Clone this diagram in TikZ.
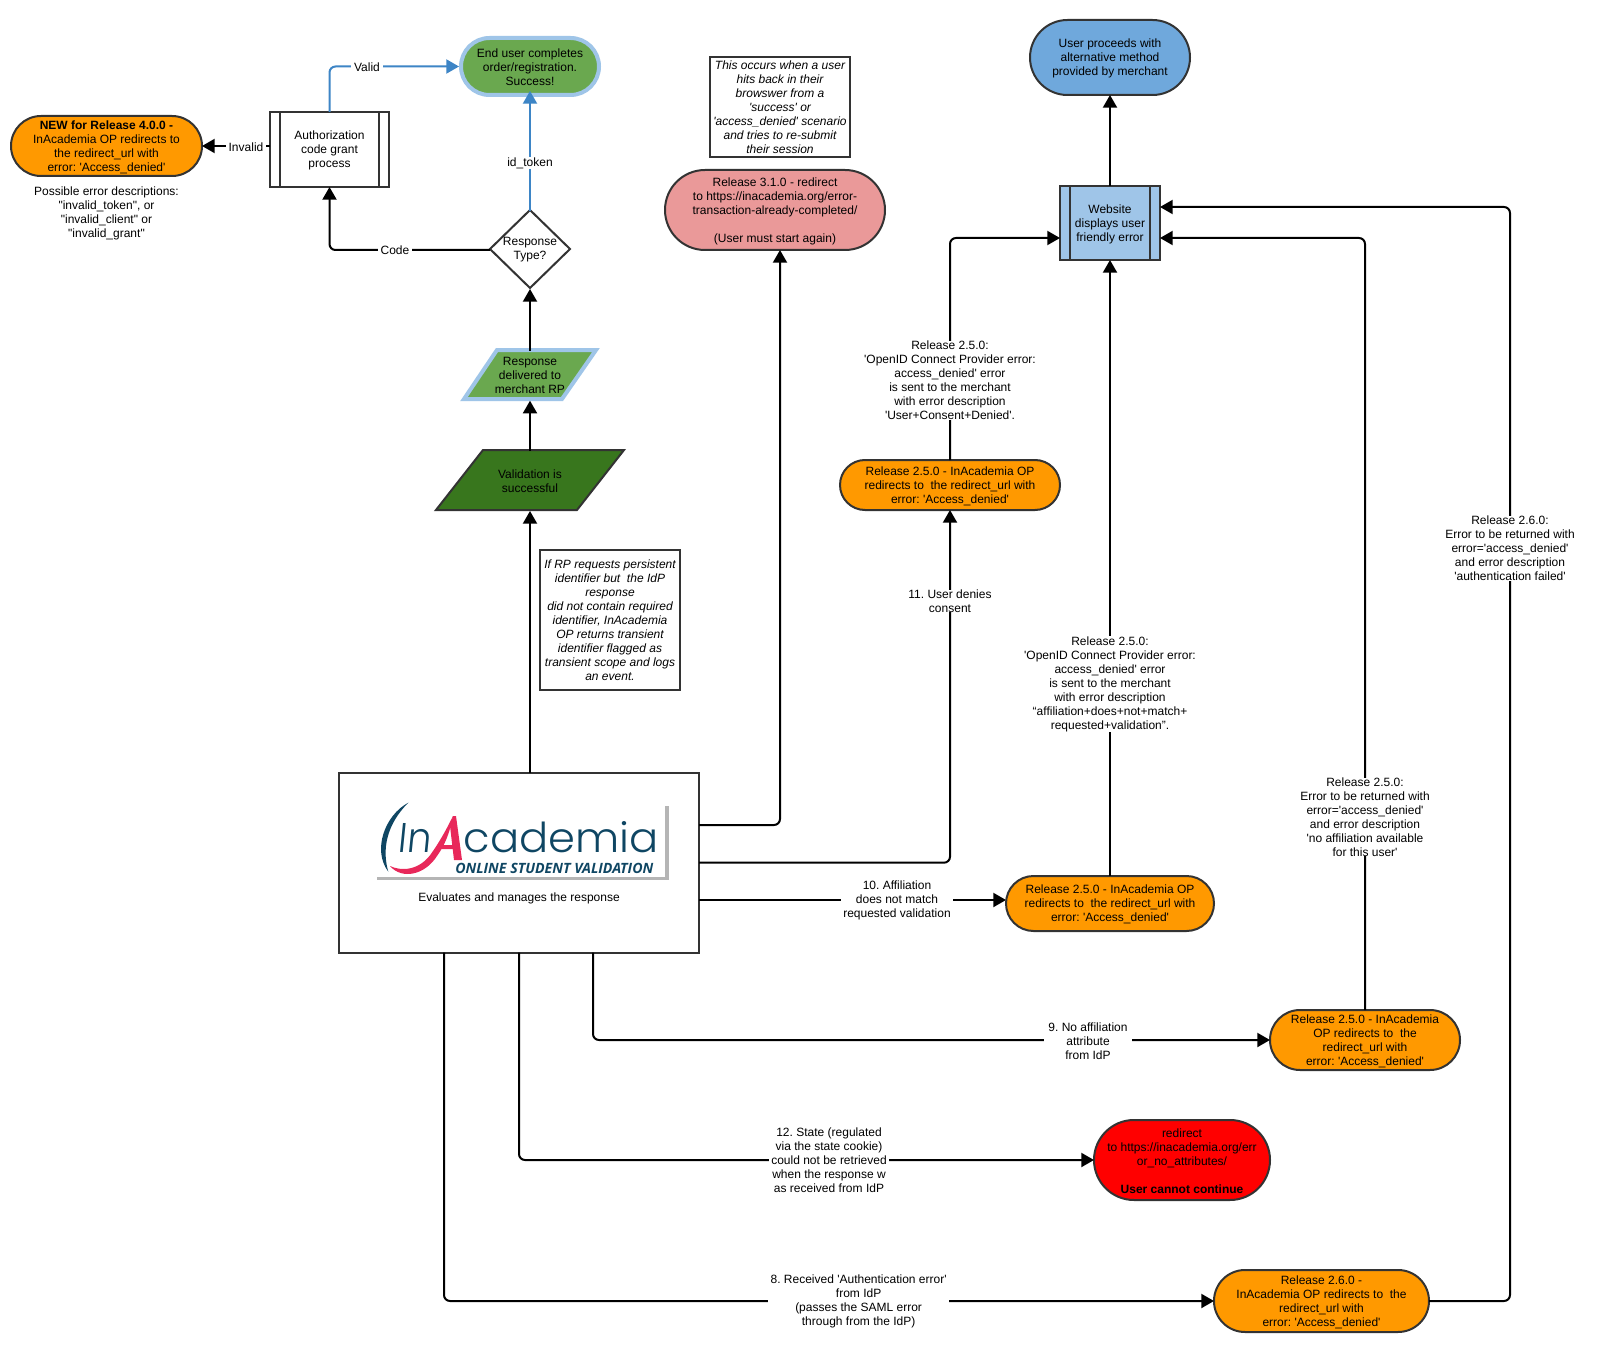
\documentclass[tikz,border=0pt]{standalone}
\usepackage{graphicx}
\usepackage{fontspec}
\usetikzlibrary{arrows.meta}
\frenchspacing
\newfontfamily\bodyfont{Liberation Sans}
\newfontfamily\logofont{Poppins Light}
\newfontfamily\logosub{Open Sans}
\newcommand\tf{\rule{0pt}{8pt}}
\definecolor{edgeC}{HTML}{333333}
\definecolor{orangeC}{HTML}{FF9900}
\definecolor{greenC}{HTML}{6AA84F}
\definecolor{dgreenC}{HTML}{38761D}
\definecolor{lblueC}{HTML}{9FC5E8}
\definecolor{blueC}{HTML}{6FA8DC}
\definecolor{pinkC}{HTML}{EA9999}
\definecolor{flowC}{HTML}{3D85C6}
\definecolor{logoB}{HTML}{0F4663}
\definecolor{logoP}{HTML}{E8285A}
\definecolor{logoG}{HTML}{B5B5B5}
\tikzset{
  txt/.style={font=\bodyfont\fontsize{9}{10.5}\selectfont,align=center,inner sep=0pt,outer sep=0pt,text=black},
  sz/.style 2 args={minimum width=#1*0.75pt,minimum height=#2*0.75pt},
  psz/.style 2 args={minimum width=#1*0.75pt,minimum height=#2*0.75pt,rounded corners=#2*0.3749pt},
  pill/.style={txt,rectangle,draw=edgeC,line width=1.5pt},
  boxed/.style={txt,rectangle,draw=edgeC,line width=1.5pt},
  notebox/.style={boxed,fill=white,font=\bodyfont\itshape\fontsize{9}{10.5}\selectfont},
  plain/.style={txt,rectangle,yshift=-0.75pt},
  lbl/.style={txt,fill=white,inner xsep=2pt,inner ysep=0pt,yshift=-0.75pt},
  conn/.style={draw=black,line width=1.5pt,rounded corners=4.5pt,-{Triangle[length=9.5pt,width=10.5pt]}},
  flow/.style={draw=flowC,line width=1.5pt,rounded corners=4.5pt,-{Triangle[length=9.5pt,width=10.5pt]}},
  bar/.style={draw=edgeC,line width=1.5pt},
}
\begin{document}
\begin{tikzpicture}[x=0.75pt,y=-0.75pt]
\useasboundingbox[fill=white] (0,0) rectangle (1597,1352);

% polygons behind text nodes
\draw[draw=edgeC,line width=1.5pt,fill=white] (530,210) -- (570,249) -- (530,288) -- (490,249) -- cycle;
\draw[draw=lblueC,line width=3pt,fill=greenC] (497,350) -- (596,350) -- (562,399) -- (464,399) -- cycle;
\draw[draw=edgeC,line width=1.5pt,fill=dgreenC] (483,450) -- (624,450) -- (577,510) -- (436,510) -- cycle;

% nodes
\node[pill,psz={138}{57},fill=greenC,draw=lblueC,line width=3pt,outer sep=1.5pt] (end) at (530,66.5) {\tf End user completes\\order/registration.\\Success!};
\node[pill,psz={191}{60},fill=orangeC] (o40) at (106.5,146) {\tf\textbf{NEW for Release 4.0.0 -}\\InAcademia OP redirects to\\the redirect\_url with\\error: 'Access\_denied'};
\node[plain] (errs) at (106.5,212) {Possible error descriptions:\\"invalid\_token", or\\ "invalid\_client" or\\"invalid\_grant"};
\node[boxed,sz={119}{75},fill=white] (auth) at (329.5,149.5) {\tf Authorization\\code grant\\process};
\draw[bar] ([xshift=7.5pt]auth.north west) -- ([xshift=7.5pt]auth.south west);
\draw[bar] ([xshift=-7.5pt]auth.north east) -- ([xshift=-7.5pt]auth.south east);
\node[plain,sz={80}{78}] (dia) at (530,249) {Response\\Type?};
\node[plain,sz={100}{50}] (resp) at (530,374.7) {Response\\delivered to\\merchant RP};
\node[plain,sz={100}{60}] (val) at (530,480) {Validation is\\successful};
\node[notebox,sz={140}{140}] (note2) at (610,620) {If RP requests persistent\\identifier but~ the IdP\\response\\did not contain required\\identifier, InAcademia\\OP returns transient\\identifier flagged as\\transient scope and logs\\an event.};
\node[notebox,sz={140}{100}] (note1) at (780,107) {This occurs when a user\\hits back in their\\browswer from a\\'success' or\\'access\_denied' scenario\\and tries to re-submit\\their session};
\node[pill,psz={220}{80},fill=pinkC] (pink) at (775,210) {\tf Release 3.1.0 - redirect\\to https://inacademia.org/error-\\transaction-already-completed/\\~\\(User must start again)};
\node[pill,psz={160}{75},fill=blueC] (alt) at (1110,57.5) {\tf User proceeds with\\alternative method\\provided by merchant};
\node[boxed,sz={100}{74},fill=lblueC] (web) at (1110,223) {\tf Website\\displays user\\friendly error};
\draw[bar] ([xshift=7.5pt]web.north west) -- ([xshift=7.5pt]web.south west);
\draw[bar] ([xshift=-7.5pt]web.north east) -- ([xshift=-7.5pt]web.south east);
\node[boxed,sz={360}{180},fill=white] (main) at (519,862.7) {};
\node[pill,psz={220}{50},fill=orangeC] (o1) at (950,485) {\tf Release 2.5.0 - InAcademia OP\\redirects to~ the redirect\_url with\\error: 'Access\_denied'};
\node[pill,psz={208}{55},fill=orangeC] (o2) at (1110,903.5) {\tf Release 2.5.0 - InAcademia OP\\redirects to~ the redirect\_url with\\error: 'Access\_denied'};
\node[pill,psz={190}{60},fill=orangeC] (o3) at (1365,1040) {\tf Release 2.5.0 - InAcademia\\OP redirects to~ the\\redirect\_url with\\error: 'Access\_denied'};
\node[pill,psz={176}{80},fill=red] (redn) at (1182,1160) {\tf redirect\\to https://inacademia.org/err\\or\_no\_attributes/\\~\\\textbf{User cannot continue}};
\node[pill,psz={215}{62},fill=orangeC] (o4) at (1321.5,1301) {\tf Release 2.6.0 -\\InAcademia OP redirects to~ the\\redirect\_url with\\error: 'Access\_denied'};

% logo
\fill[logoG] (665,805.7) rectangle (668.7,880);
\fill[logoG] (377,877.3) rectangle (668.7,880);
\fill[logoB] (408.3,802.7) .. controls (385,815) and (372,850) .. (388.3,871.7) .. controls (382,850) and (386,825) .. cycle;
\node[inner sep=0pt,anchor=base west,text=logoB,xslant=0.1] (logoIn) at (397,852.7) {\resizebox{24.75pt}{21.75pt}{\logofont In}};
\node[inner sep=0pt,anchor=base west,text=logoB] (logoAc) at (463.3,852.7) {\resizebox{146.25pt}{23.25pt}{\logofont cademia}};
\fill[logoP] (390,866) .. controls (400,871) and (420,872) .. (433,851) .. controls (442,838) and (448,826) .. (453,816) .. controls (450,832) and (445,845) .. (437,856) .. controls (425,875) and (402,880) .. cycle;
\fill[logoP] (453,816) -- (456,816) -- (462,860) -- (454,860) -- (450,826) -- cycle;
\fill[logoP] (439,845) -- (455,845) -- (455,849) -- (437,849) -- cycle;
\node[inner sep=0pt,anchor=base west,text=logoB] (logoSub) at (455,873.7) {\resizebox{148.5pt}{!}{\logosub\bfseries\itshape ONLINE STUDENT VALIDATION}};
\node[plain] (mainT) at (519,897.7) {Evaluates and manages the response};

% connectors
\coordinate (mt) at (530,772.7);
\coordinate (m1) at (699,825);
\coordinate (m2) at (699,862.7);
\coordinate (m3) at (699,900);
\coordinate (b1) at (444,952.7);
\coordinate (b3) at (593,952.7);
\coordinate (wl) at (1060,238);
\coordinate (wr) at (1160,238);
\coordinate (wr2) at (1160,207);
\coordinate (far) at (1510,1301);
\draw[flow] (auth.north) |- (end.west);
\draw[flow] (dia.north) -- ([yshift=4.5pt]end.south);
\draw[conn] (auth.west |- o40.east) -- (o40.east);
\draw[conn] (dia.west) -| (auth.south);
\draw[conn] (resp.north) -- (dia.south);
\draw[conn] (val.north) -- (resp.south);
\draw[conn] (mt) -- (val.south);
\draw[conn] (m1) -| ([xshift=3.75pt]pink.south);
\draw[conn] (m2) -| (o1.south);
\draw[conn] (m3) -- (m3 -| o2.west);
\draw[conn] (main.south) |- (redn.west);
\draw[conn] (b1) |- (o4.west);
\draw[conn] (b3) |- (o3.west);
\draw[conn] (o1.north) |- (wl);
\draw[conn] (o2.north) -- (web.south);
\draw[conn] (o3.north) |- (wr);
\draw[conn] (o4.east) -- (far) |- (wr2);
\draw[conn] (web.north) -- (alt.south);

% labels
\node[lbl] (lValid) at (367,66.5) {Valid};
\node[lbl] (lInvalid) at (246,146) {Invalid};
\node[lbl] (lCode) at (395,249) {Code};
\node[lbl] (lToken) at (530,162) {id\_token};
\node[lbl] (l1) at (950,379.5) {Release 2.5.0:\\'OpenID Connect Provider error:\\access\_denied' error\\is sent to the merchant\\with error description\\'User+Consent+Denied'.};
\node[lbl] (l2) at (950,600) {11. User denies\\consent};
\node[lbl] (l3) at (1110,683) {Release 2.5.0:\\'OpenID Connect Provider error:\\access\_denied' error\\is sent to the merchant\\with error description\\“affiliation+does+not+match+\\requested+validation”.};
\node[lbl] (l4) at (1365,816) {Release 2.5.0:\\Error to be returned with\\error='access\_denied'\\and error description\\'no affiliation available\\for this user'};
\node[lbl] (l5) at (1510,547.5) {Release 2.6.0:\\Error to be returned with\\error='access\_denied'\\and error description\\'authentication failed'};
\node[lbl] (l6) at (897,899) {10. Affiliation\\does not match\\requested validation};
\node[lbl,inner xsep=3pt] (l7) at (1088,1040) {9. No affiliation\\attribute\\from IdP};
\node[lbl] (l8) at (829,1159.5) {12. State (regulated\\via the state cookie)\\could not be retrieved\\when the response w\\as received from IdP};
\node[lbl] (l9) at (858.6,1300) {8. Received 'Authentication error'\\from IdP\\(passes the SAML error\\through from the IdP)};
\end{tikzpicture}
\end{document}
